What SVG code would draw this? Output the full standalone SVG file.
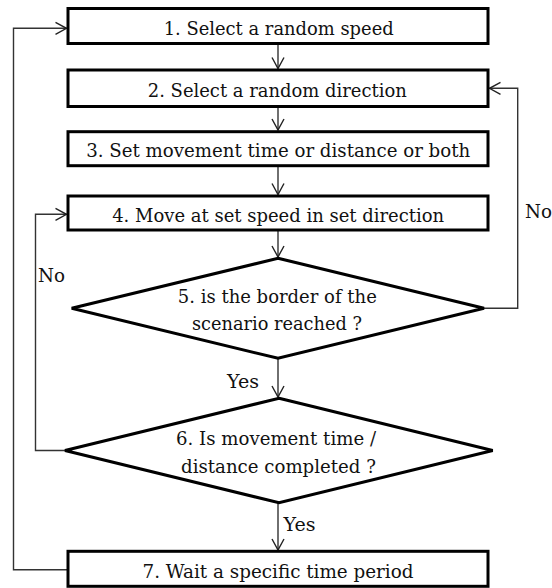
<svg xmlns="http://www.w3.org/2000/svg" width="552" height="588" viewBox="0 0 552 588">
<defs>
<marker id="arr" markerUnits="userSpaceOnUse" markerWidth="14" markerHeight="14" viewBox="0 0 14 14" refX="12" refY="7" orient="auto">
<path d="M1,1 L12,7 L1,13" fill="none" stroke="#222" stroke-width="1.4"/>
</marker>
<style>
.box{fill:#fff;stroke:#000;stroke-width:3}
.t{text-anchor:middle}
.c{fill:none;stroke:#333;stroke-width:1.4}
</style>
</defs>
<g font-family="DejaVu Serif, serif" font-size="19" fill="#111">
<g id="connectors">
<path class="c" d="M278,43 V68.5" marker-end="url(#arr)"/>
<path class="c" d="M278,107 V130" marker-end="url(#arr)"/>
<path class="c" d="M278,166 V194.5" marker-end="url(#arr)"/>
<path class="c" d="M278,231 V257" marker-end="url(#arr)"/>
<path class="c" d="M278,359 V397" marker-end="url(#arr)"/>
<path class="c" d="M278,503 V550" marker-end="url(#arr)"/>
<path class="c" d="M67,569.7 H13.5 V28.3 H66.5" marker-end="url(#arr)"/>
<path class="c" d="M65,450.5 H35.5 V214.3 H66.5" marker-end="url(#arr)"/>
<path class="c" d="M484,308.3 H517.7 V88.3 H489.5" marker-end="url(#arr)"/>
<text x="525" y="218" textLength="27" lengthAdjust="spacingAndGlyphs">No</text>
<text x="38" y="281.7" textLength="27" lengthAdjust="spacingAndGlyphs">No</text>
<text x="227" y="388" textLength="32" lengthAdjust="spacingAndGlyphs">Yes</text>
<text x="283.5" y="531" textLength="32" lengthAdjust="spacingAndGlyphs">Yes</text>
</g>
<g id="n1"><rect class="box" x="68" y="8.5" width="420" height="35"/><text class="t" x="278.7" y="35" textLength="230" lengthAdjust="spacingAndGlyphs">1. Select a random speed</text></g>
<g id="n2"><rect class="box" x="68" y="70" width="420" height="36.5"/><text class="t" x="277.3" y="96.5" textLength="259" lengthAdjust="spacingAndGlyphs">2. Select a random direction</text></g>
<g id="n3"><rect class="box" x="68" y="131.7" width="420" height="34"/><text class="t" x="278.2" y="156.5" textLength="384" lengthAdjust="spacingAndGlyphs">3. Set movement time or distance or both</text></g>
<g id="n4"><rect class="box" x="68" y="196" width="420" height="34"/><text class="t" x="278.2" y="221.5" textLength="332" lengthAdjust="spacingAndGlyphs">4. Move at set speed in set direction</text></g>
<g id="n5"><polygon class="box" points="278,258.3 484,308.3 278,358.3 71.7,308.3"/><text class="t" x="277.3" y="302.7" textLength="199" lengthAdjust="spacingAndGlyphs">5. is the border of the</text><text class="t" x="277" y="330" textLength="170" lengthAdjust="spacingAndGlyphs">scenario reached ?</text></g>
<g id="n6"><polygon class="box" points="279,398.3 492.7,450.5 279,502.7 65,450.5"/><text class="t" x="276" y="445" textLength="200" lengthAdjust="spacingAndGlyphs">6. Is movement time /</text><text class="t" x="278.5" y="472.7" textLength="195" lengthAdjust="spacingAndGlyphs">distance completed ?</text></g>
<g id="n7"><rect class="box" x="68" y="551.3" width="420" height="35"/><text class="t" x="278" y="578.3" textLength="271" lengthAdjust="spacingAndGlyphs">7. Wait a specific time period</text></g>
</g>
</svg>
